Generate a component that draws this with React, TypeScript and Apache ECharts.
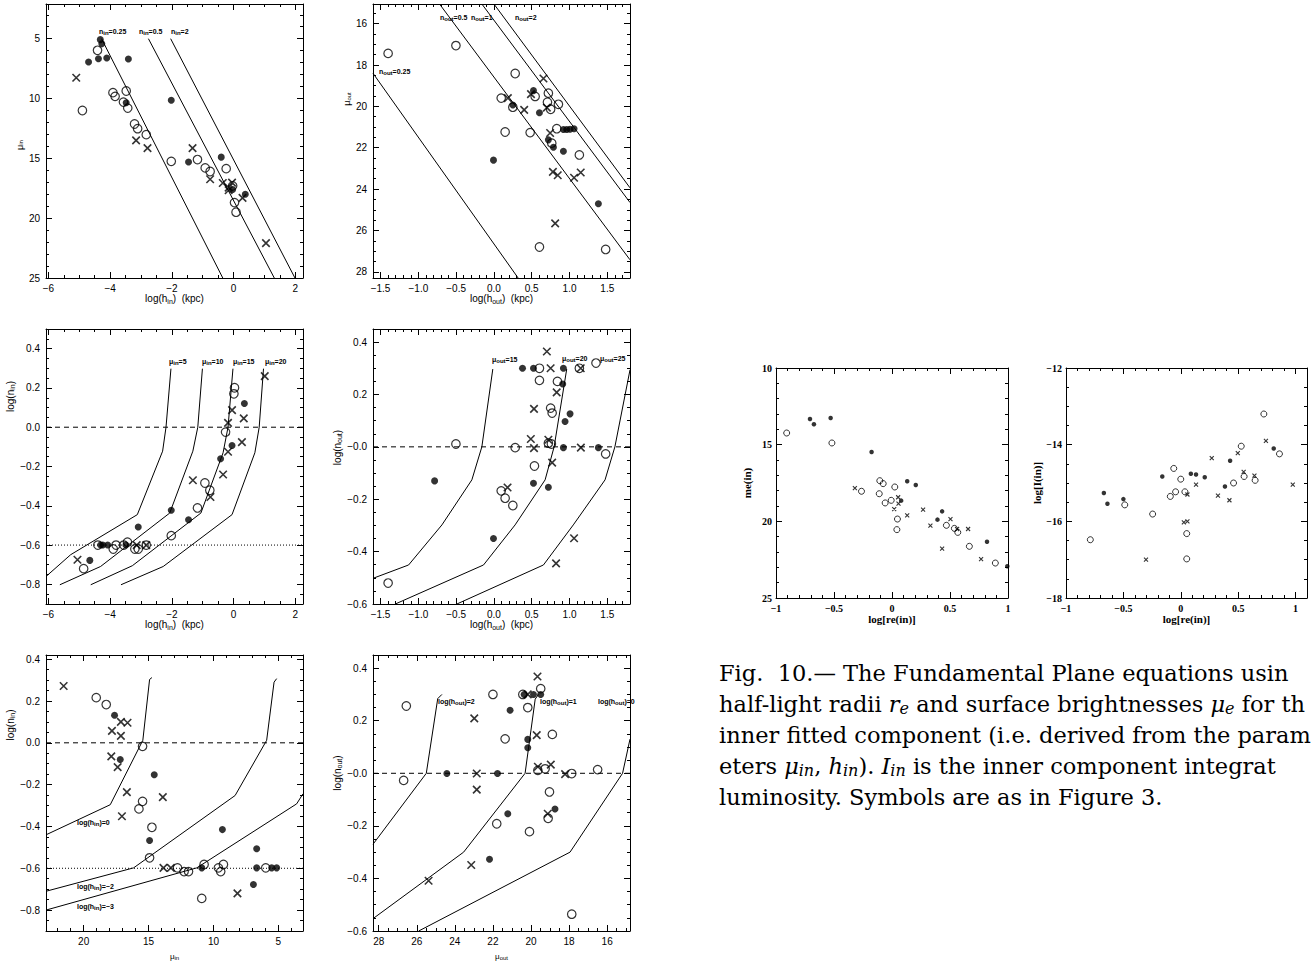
import React, { useEffect, useRef } from "react";
import * as echarts from "echarts";

// ================= DATA =================
// Panel A: mu_in vs log(h_in)
const aFilled = [[-4.32,5.08],[-4.27,5.42],[-4.70,6.95],[-4.38,6.67],[-4.11,6.62],[-3.41,6.70],[-3.48,10.35],[-2.02,10.15],[-1.46,15.30],[-0.40,14.90],[-0.03,17.60],[0.38,18.00]];
const aOpen = [[-4.41,5.97],[-3.91,9.51],[-3.84,9.82],[-3.48,9.37],[-3.57,10.30],[-3.43,10.80],[-4.90,11.00],[-3.21,12.13],[-3.11,12.52],[-2.83,13.02],[-2.02,15.25],[-1.17,15.10],[-0.92,15.80],[-0.76,16.10],[-0.24,15.86],[-0.03,17.30],[0.03,18.70],[0.08,19.50]];
const aCross = [[-5.10,8.26],[-3.16,13.50],[-2.79,14.14],[-1.33,14.14],[-0.76,16.75],[-0.35,17.06],[-0.16,17.67],[-0.05,17.03],[0.29,18.30],[1.05,22.08],[-0.16,17.45]];
const aLineN025 = [[-4.28,5.0],[-0.35,25.0]];
const aLineN05 = [[-2.76,5.0],[1.32,25.0]];
const aLineN2 = [[-2.04,5.0],[1.99,25.0]];

// Panel B: mu_out vs log(h_out)
const bFilled = [[0.523,19.24],[0.25,19.93],[0.602,20.31],[-0.006,22.60],[0.72,21.62],[0.787,21.98],[0.919,22.17],[0.919,21.12],[0.963,21.12],[1.007,21.11],[1.06,21.08],[1.382,24.71]];
const bOpen = [[-1.40,17.44],[-0.503,17.06],[0.281,18.41],[0.096,19.60],[0.148,21.24],[0.25,20.04],[0.545,19.52],[0.72,19.36],[0.708,19.80],[0.75,20.14],[0.853,19.90],[0.479,21.27],[0.831,21.08],[0.765,21.78],[1.13,22.35],[0.602,26.80],[1.478,26.92]];
const bCross = [[0.655,18.65],[0.184,19.60],[0.49,19.41],[0.40,20.17],[0.70,20.06],[0.743,21.29],[0.78,23.17],[0.844,23.33],[1.06,23.45],[1.148,23.20],[0.81,25.66]];
const bLineN025 = [[-1.6,18.4],[0.32,28.3]];
const bLineN05 = [[-0.72,15.05],[1.8,27.42]];
const bLineN1 = [[-0.16,15.05],[1.8,24.65]];
const bLineN2 = [[0.0,15.05],[1.8,23.94]];

// Panel C: log(n_in) vs log(h_in)
const cFilled = [[-4.66,-0.678],[-4.31,-0.60],[-4.24,-0.60],[-4.08,-0.60],[-3.49,-0.60],[-3.09,-0.508],[-2.02,-0.423],[-1.46,-0.471],[-0.42,-0.161],[-0.05,-0.093],[0.35,0.121]];
const cOpen = [[-4.86,-0.72],[-4.40,-0.60],[-3.90,-0.62],[-3.81,-0.60],[-3.56,-0.60],[-3.44,-0.585],[-3.20,-0.62],[-3.09,-0.62],[-2.83,-0.60],[-2.02,-0.552],[-1.17,-0.411],[-0.93,-0.284],[-0.77,-0.321],[-0.26,-0.025],[0.03,0.201],[0.01,0.17]];
const cCross = [[-5.06,-0.675],[-1.32,-0.27],[-0.75,-0.355],[-0.34,-0.241],[-0.18,-0.125],[-0.18,0.022],[-0.05,0.087],[0.27,-0.076],[0.33,0.045],[1.01,0.26],[-3.14,-0.60],[-2.83,-0.60]];
const cCurveMu5 = [[-6.08,-0.76],[-5.28,-0.649],[-3.12,-0.445],[-2.30,-0.122],[-2.19,0.0],[-2.03,0.298]];
const cCurveMu10 = [[-5.63,-0.802],[-4.31,-0.709],[-2.07,-0.437],[-1.32,-0.122],[-1.16,0.0],[-1.01,0.298]];
const cCurveMu15 = [[-4.63,-0.802],[-3.28,-0.705],[-1.06,-0.437],[-0.34,-0.13],[-0.18,0.0],[-0.02,0.298]];
const cCurveMu20 = [[-3.65,-0.802],[-2.28,-0.709],[-0.05,-0.445],[0.69,-0.13],[0.83,0.0],[0.97,0.298]];

// Panel D: log(n_out) vs log(h_out)
const dFilled = [[-0.785,-0.13],[-0.006,-0.35],[0.378,0.30],[0.523,0.30],[0.919,0.30],[0.91,0.24],[0.523,-0.139],[0.72,-0.154],[0.941,0.097],[1.007,0.126],[0.919,-0.003],[1.382,-0.003]];
const dOpen = [[-1.40,-0.52],[-0.503,0.011],[0.281,-0.003],[0.096,-0.168],[0.148,-0.196],[0.25,-0.224],[0.536,-0.073],[0.602,0.30],[0.602,0.254],[0.75,0.148],[0.77,0.129],[0.72,0.014],[0.76,0.011],[0.84,0.25],[1.35,0.32],[1.13,0.30],[1.478,-0.027]];
const dCross = [[0.70,0.364],[0.75,0.30],[0.53,0.145],[0.83,0.208],[0.488,0.03],[0.72,0.027],[0.53,-0.005],[0.77,-0.06],[0.18,-0.155],[1.148,0.30],[1.15,-0.003],[1.06,-0.349],[0.822,-0.445]];
const dCurveMu15 = [[-1.6,-0.502],[-1.129,-0.451],[-0.688,-0.298],[-0.292,-0.126],[-0.16,0.0],[-0.015,0.297]];
const dCurveMu20 = [[-1.305,-0.6],[-0.138,-0.451],[0.28,-0.298],[0.677,-0.126],[0.796,0.0],[0.963,0.297]];
const dCurveMu25 = [[-0.49,-0.6],[0.655,-0.451],[1.05,-0.298],[1.47,-0.126],[1.6,0.0],[1.8,0.294]];

// Panel E: log(n_in) vs mu_in
const eFilled = [[17.62,0.132],[17.18,-0.08],[14.56,-0.153],[14.92,-0.467],[9.31,-0.415],[10.9,-0.598],[6.67,-0.507],[6.92,-0.678],[6.67,-0.598],[5.51,-0.598],[5.13,-0.598]];
const eOpen = [[19.03,0.216],[18.26,0.183],[15.46,-0.017],[15.46,-0.28],[15.74,-0.316],[14.74,-0.404],[14.92,-0.55],[12.77,-0.598],[12.26,-0.616],[11.92,-0.616],[10.9,-0.744],[10.72,-0.582],[9.62,-0.598],[9.44,-0.616],[9.23,-0.582],[5.97,-0.598]];
const eCross = [[21.54,0.272],[17.82,0.057],[17.13,0.10],[16.62,0.096],[17.13,0.033],[17.87,-0.065],[17.38,-0.116],[16.67,-0.236],[17.05,-0.351],[13.9,-0.26],[13.85,-0.598],[13.28,-0.598],[8.15,-0.72]];
const eCurveH0 = [[22.9,-0.44],[17.95,-0.296],[15.44,0.012],[14.92,0.303],[14.74,0.312]];
const eCurveHm2 = [[22.9,-0.71],[16.15,-0.598],[8.33,-0.252],[5.9,0.012],[5.33,0.29],[5.13,0.307]];
const eCurveHm3 = [[22.9,-0.80],[11.28,-0.598],[3.59,-0.292],[3.1,-0.244]];

// Panel F: log(n_out) vs mu_out
const fFilled = [[20.36,0.30],[19.87,0.30],[19.49,0.30],[21.1,0.24],[20.17,0.129],[20.17,0.097],[24.42,-0.001],[21.76,-0.001],[21.22,-0.154],[18.74,-0.136],[22.18,-0.327]];
const fOpen = [[26.55,0.256],[26.69,-0.027],[22.0,0.30],[20.43,0.30],[20.17,0.25],[21.36,0.131],[19.49,0.322],[18.88,0.148],[19.64,0.011],[19.26,0.017],[17.86,-0.001],[16.5,0.014],[19.03,-0.071],[21.8,-0.192],[20.08,-0.222],[19.1,-0.171],[17.86,-0.536]];
const fCross = [[20.17,0.30],[19.66,0.368],[22.98,0.209],[19.7,0.145],[19.64,0.025],[18.96,0.033],[18.21,-0.003],[22.85,-0.001],[22.85,-0.062],[19.12,-0.154],[23.14,-0.349],[25.38,-0.409]];
const fCurveH2 = [[28.3,-0.27],[25.5,0.0],[24.9,0.284],[24.68,0.30]];
const fCurveH1 = [[28.3,-0.553],[23.54,-0.30],[20.31,0.0],[19.78,0.282],[19.61,0.30]];
const fCurveH0 = [[25.9,-0.6],[17.95,-0.30],[15.19,0.0],[14.8,0.13]];

// Panel G: me(in) vs log[re(in)]
const gFilled = [[-0.707,13.33],[-0.673,13.67],[-0.529,13.26],[-0.176,15.48],[0.131,17.39],[0.205,17.63],[0.079,18.65],[0.392,19.89],[0.432,19.35],[0.819,21.33],[0.994,22.93]];
const gOpen = [[-0.908,14.24],[-0.518,14.89],[-0.263,18.04],[-0.105,17.35],[-0.076,17.54],[-0.11,18.2],[0.024,17.76],[-0.059,18.8],[-0.007,18.63],[0.047,19.85],[0.042,20.54],[0.469,20.26],[0.538,20.46],[0.567,20.72],[0.667,21.63],[0.891,22.72]];
const gCross = [[-0.32,17.83],[0.019,19.2],[0.053,18.43],[0.056,18.85],[0.131,19.61],[0.268,19.24],[0.331,20.28],[0.504,19.85],[0.561,20.5],[0.656,20.5],[0.432,21.78],[0.768,22.46]];

// Panel H: log[I(in)] vs log[re(in)]
const hFilled = [[-0.67,-15.26],[-0.639,-15.54],[-0.5,-15.42],[-0.161,-14.83],[0.088,-14.76],[0.133,-14.78],[0.209,-14.85],[0.385,-15.09],[0.43,-14.42],[0.81,-14.1]];
const hOpen = [[-0.788,-16.48],[-0.488,-15.57],[-0.245,-15.81],[-0.091,-15.35],[-0.061,-14.62],[-0.045,-15.23],[0.0,-14.9],[0.036,-15.23],[0.052,-16.32],[0.052,-16.98],[0.46,-15.0],[0.527,-14.04],[0.552,-14.83],[0.648,-14.93],[0.724,-13.2],[0.86,-14.24]];
const hCross = [[-0.303,-17.0],[0.027,-16.03],[0.058,-16.0],[0.058,-15.3],[0.133,-15.04],[0.27,-14.35],[0.324,-15.33],[0.424,-15.45],[0.497,-14.22],[0.548,-14.71],[0.642,-14.81],[0.742,-13.9],[0.976,-15.04]];

// reference lines
const zeroLineHin = [[-6.08,0],[2.25,0]];
const dotLineHin = [[-6.08,-0.6],[2.25,-0.6]];
const zeroLineHout = [[-1.6,0],[1.8,0]];
const zeroLineMuin = [[3.1,0],[22.9,0]];
const dotLineMuin = [[3.1,-0.6],[22.9,-0.6]];
const zeroLineMuout = [[14.8,0],[28.3,0]];

// tick values and labels
const hinTicks = [-6,-4,-2,0,2];
const hinLabels = ["−6","−4","−2","0","2"];
const muinTicks = [5,10,15,20,25];
const muinLabels = ["5","10","15","20","25"];
const houtTicks = [-1.5,-1,-0.5,0,0.5,1,1.5];
const houtLabels = ["−1.5","−1.0","−0.5","0.0","0.5","1.0","1.5"];
const muoutTicks = [16,18,20,22,24,26,28];
const muoutLabels = ["16","18","20","22","24","26","28"];
const ninTicks = [-0.8,-0.6,-0.4,-0.2,0,0.2,0.4];
const ninLabels = ["−0.8","−0.6","−0.4","−0.2","0.0","0.2","0.4"];
const noutTicks = [-0.6,-0.4,-0.2,0,0.2,0.4];
const noutLabels = ["−0.6","−0.4","−0.2","−0.0","0.2","0.4"];
const muinRevTicks = [20,15,10,5];
const muinRevLabels = ["20","15","10","5"];
const reTicks = [-1,-0.5,0,0.5,1];
const reLabels = ["−1","−0.5","0","0.5","1"];
const meTicks = [10,15,20,25];
const meLabels = ["10","15","20","25"];
const lumTicks = [-18,-16,-14,-12];
const lumLabels = ["−18","−16","−14","−12"];

// caption, as visible in the reference (its right side runs off the page there)
const captionLines = [
  "{n|Fig.  10.— The Fundamental Plane equations usin}",
  "{n|half-light radii }{i|r}{s|e}{n| and surface brightnesses }{i|μ}{s|e}{n| for th}",
  "{n|inner fitted component (i.e. derived from the param}",
  "{n|eters }{i|μ}{s|in}{n|, }{i|h}{s|in}{n|). }{i|I}{s|in}{n| is the inner component integrat}",
  "{n|luminosity. Symbols are as in Figure 3.}",
];

// ================= HELPERS =================
const SANS = "Liberation Sans, Arial, sans-serif";
const SERIF = "Liberation Serif, Times New Roman, serif";
const CAPFONT = "DejaVu Serif, serif";
const CROSS = "path://M0,0L10,10M10,0L0,10";

function seq(a: number, b: number, step: number) {
  const out: number[] = [];
  const n = Math.round((b - a) / step);
  for (let i = 0; i <= n; i++) out.push(+(a + i * step).toFixed(6));
  return out;
}
function minors(a: number, b: number, step: number, majors: number[]) {
  return seq(a, b, step).filter((v) => !majors.some((m) => Math.abs(m - v) < 1e-6));
}

function richOf(s: string, fs: number, family: string, weight: string = "normal") {
  const parts: string[] = [];
  const re = /_\{([^}]*)\}/g;
  let last = 0;
  let m: RegExpExecArray | null;
  while ((m = re.exec(s))) {
    if (m.index > last) parts.push(`{m|${s.slice(last, m.index)}}`);
    parts.push(`{s|${m[1]}}`);
    last = re.lastIndex;
  }
  if (last < s.length) parts.push(`{m|${s.slice(last)}}`);
  const sfs = Math.max(6, Math.round(fs * 0.7));
  return {
    text: parts.join(""),
    rich: {
      m: { fontSize: fs, fontFamily: family, fontWeight: weight, lineHeight: fs + 2, verticalAlign: "top", color: "#000", fill: "#000" },
      s: { fontSize: sfs, fontFamily: family, fontWeight: weight, lineHeight: fs + 2, padding: [Math.round(fs * 0.35), 0, 0, 0], verticalAlign: "top", color: "#000", fill: "#000" },
    },
  };
}

type Spec = { min: number; max: number; inverse?: boolean; majors: number[]; labels: string[]; minors: number[] };
type NameCfg = { text: string; gap: number; fs: number; family: string; weight?: string; shift?: number };

function axesFor(dim: "x" | "y", gi: number, spec: Spec, lab: any, name: NameCfg, majorLen: number, minorLen: number) {
  const posA = dim === "x" ? "bottom" : "left";
  const posB = dim === "x" ? "top" : "right";
  const fmt = (v: number) => {
    const i = spec.majors.findIndex((mm) => Math.abs(mm - v) < 1e-6);
    return i >= 0 ? spec.labels[i] : "";
  };
  const r = richOf(name.text, name.fs, name.family, name.weight || "normal");
  const shift = name.shift || 0;
  const namePart = {
    name: r.text,
    nameLocation: "middle",
    nameGap: name.gap,
    nameRotate: dim === "y" ? 90 : 0,
    nameTextStyle: {
      color: "#000",
      rich: r.rich,
      padding: shift >= 0 ? [0, 0, 0, shift * 2] : [0, -shift * 2, 0, 0],
    },
  };
  const mk = (pos: string, vals: number[], len: number, labeled: boolean, line: boolean) => ({
    type: "value",
    gridIndex: gi,
    min: spec.min,
    max: spec.max,
    inverse: !!spec.inverse,
    position: pos,
    splitLine: { show: false },
    axisLine: { show: line, onZero: false, lineStyle: { color: "#000", width: 1 } },
    axisTick: { show: true, inside: true, length: len, customValues: vals, lineStyle: { color: "#000", width: 1 } },
    axisLabel: labeled ? { show: true, customValues: spec.majors, formatter: fmt, ...lab } : { show: false },
    ...(labeled ? namePart : {}),
  });
  return [
    mk(posA, spec.majors, majorLen, true, true),
    mk(posA, spec.minors, minorLen, false, false),
    mk(posB, spec.majors, majorLen, false, true),
    mk(posB, spec.minors, minorLen, false, false),
  ];
}

function pts(gi: number, data: number[][], kind: "filled" | "open" | "cross", small: boolean) {
  const base: any = { type: "scatter", xAxisIndex: gi * 4, yAxisIndex: gi * 4, data, silent: true, z: 5 };
  if (kind === "filled") return { ...base, symbol: "circle", symbolSize: small ? 4.5 : 7, itemStyle: { color: "#000" } };
  if (kind === "open") return { ...base, symbol: "circle", symbolSize: small ? 6 : 8.5, itemStyle: { color: "rgba(0,0,0,0)", borderColor: "#000", borderWidth: small ? 1 : 1.2 } };
  return { ...base, symbol: CROSS, symbolSize: small ? 4 : 7.5, itemStyle: { color: "rgba(0,0,0,0)", borderColor: "#000", borderWidth: small ? 1.1 : 1.6 } };
}

function ln(gi: number, data: number[][], type: any = "solid") {
  return { type: "line", xAxisIndex: gi * 4, yAxisIndex: gi * 4, data, showSymbol: false, symbol: "none", silent: true, clip: true, z: 3, lineStyle: { color: "#000", width: 1, type } };
}

function note(x: number, y: number, s: string, fs: number = 7) {
  const r = richOf(s, fs, SANS, "bold");
  return { type: "text", x, y, silent: true, style: { text: r.text, rich: r.rich, verticalAlign: "middle", align: "left", fill: "#000" } };
}

// ================= COMPONENT =================
export default function App() {
  const ref = useRef<HTMLDivElement>(null);

  useEffect(() => {
    if (!ref.current) return;
    const chart = echarts.init(ref.current, undefined, { renderer: "svg" });

    const grids = [
      { left: 46, top: 4, width: 257, height: 274 },
      { left: 373, top: 4, width: 257, height: 274 },
      { left: 46, top: 329, width: 257, height: 275 },
      { left: 373, top: 329, width: 257, height: 275 },
      { left: 46, top: 655, width: 257, height: 276 },
      { left: 373, top: 655, width: 257, height: 276 },
      { left: 776, top: 368, width: 232, height: 230 },
      { left: 1066, top: 368, width: 241, height: 230 },
    ].map((g) => ({ ...g, show: false, containLabel: false }));

    const hinSpec: Spec = { min: -6.08, max: 2.25, majors: hinTicks, labels: hinLabels, minors: minors(-6, 2, 0.5, hinTicks) };
    const houtSpec: Spec = { min: -1.6, max: 1.8, majors: houtTicks, labels: houtLabels, minors: minors(-1.6, 1.8, 0.1, houtTicks) };
    const ninSpec: Spec = { min: -0.9, max: 0.5, majors: ninTicks, labels: ninLabels, minors: minors(-0.9, 0.5, 0.05, ninTicks) };
    const noutSpec: Spec = { min: -0.6, max: 0.45, majors: noutTicks, labels: noutLabels, minors: minors(-0.6, 0.45, 0.05, noutTicks) };

    const specs: [Spec, Spec][] = [
      [hinSpec, { min: 2.1, max: 25, inverse: true, majors: muinTicks, labels: muinLabels, minors: minors(3, 25, 1, muinTicks) }],
      [houtSpec, { min: 15.05, max: 28.3, inverse: true, majors: muoutTicks, labels: muoutLabels, minors: minors(15.5, 28, 0.5, muoutTicks) }],
      [hinSpec, ninSpec],
      [houtSpec, noutSpec],
      [{ min: 3.1, max: 22.9, inverse: true, majors: muinRevTicks, labels: muinRevLabels, minors: minors(4, 22, 1, muinRevTicks) }, { min: -0.9, max: 0.42, majors: ninTicks, labels: ninLabels, minors: minors(-0.9, 0.4, 0.05, ninTicks) }],
      [{ min: 14.8, max: 28.3, inverse: true, majors: muoutTicks, labels: muoutLabels, minors: minors(15, 28, 0.5, muoutTicks) }, noutSpec],
      [{ min: -1, max: 1, majors: reTicks, labels: reLabels, minors: minors(-1, 1, 0.1, reTicks) }, { min: 10, max: 25, inverse: true, majors: meTicks, labels: meLabels, minors: minors(10, 25, 1, meTicks) }],
      [{ min: -1, max: 1.1, majors: reTicks, labels: reLabels, minors: minors(-1, 1.1, 0.1, reTicks) }, { min: -18, max: -12, majors: lumTicks, labels: lumLabels, minors: minors(-18, -12, 0.5, lumTicks) }],
    ];

    const xNames: NameCfg[] = [
      { text: "log(h_{in})  (kpc)", gap: 15, fs: 10, family: SANS },
      { text: "log(h_{out})  (kpc)", gap: 15, fs: 10, family: SANS },
      { text: "log(h_{in})  (kpc)", gap: 15, fs: 10, family: SANS },
      { text: "log(h_{out})  (kpc)", gap: 15, fs: 10, family: SANS },
      { text: "μ_{in}", gap: 21, fs: 8, family: SANS },
      { text: "μ_{out}", gap: 21, fs: 8, family: SANS },
      { text: "log[re(in)]", gap: 9, fs: 11, family: SERIF, weight: "bold" },
      { text: "log[re(in)]", gap: 9, fs: 11, family: SERIF, weight: "bold" },
    ];
    const yNames: NameCfg[] = [
      { text: "μ_{in}", gap: 20, fs: 9, family: SANS, shift: -4 },
      { text: "μ_{out}", gap: 19, fs: 9, family: SANS, shift: 42 },
      { text: "log(n_{in})", gap: 29, fs: 10, family: SANS, shift: 70 },
      { text: "log(n_{out})", gap: 18, fs: 10, family: SANS, shift: 19 },
      { text: "log(n_{in})", gap: 29, fs: 10, family: SANS, shift: 68 },
      { text: "log(n_{out})", gap: 28, fs: 10, family: SANS, shift: 20 },
      { text: "me(in)", gap: 22, fs: 11, family: SERIF, weight: "bold" },
      { text: "log[I(in)]", gap: 22, fs: 11, family: SERIF, weight: "bold" },
    ];

    const xAxis: any[] = [];
    const yAxis: any[] = [];
    specs.forEach(([xs, ys], gi) => {
      const right = gi >= 6;
      const lab = right
        ? { fontFamily: SERIF, fontWeight: "bold", fontSize: 10, color: "#000" }
        : { fontFamily: SANS, fontSize: 10, color: "#000" };
      xAxis.push(...axesFor("x", gi, xs, { ...lab, margin: 5 }, xNames[gi], 6, 3));
      yAxis.push(...axesFor("y", gi, ys, { ...lab, margin: right ? 4 : 6 }, yNames[gi], 6, 3));
    });

    const series: any[] = [
      // A
      ln(0, aLineN025), ln(0, aLineN05), ln(0, aLineN2),
      pts(0, aFilled, "filled", false), pts(0, aOpen, "open", false), pts(0, aCross, "cross", false),
      // B
      ln(1, bLineN025), ln(1, bLineN05), ln(1, bLineN1), ln(1, bLineN2),
      pts(1, bFilled, "filled", false), pts(1, bOpen, "open", false), pts(1, bCross, "cross", false),
      // C
      ln(2, zeroLineHin, [5, 4]), ln(2, dotLineHin, [1, 2]),
      ln(2, cCurveMu5), ln(2, cCurveMu10), ln(2, cCurveMu15), ln(2, cCurveMu20),
      pts(2, cFilled, "filled", false), pts(2, cOpen, "open", false), pts(2, cCross, "cross", false),
      // D
      ln(3, zeroLineHout, [5, 4]),
      ln(3, dCurveMu15), ln(3, dCurveMu20), ln(3, dCurveMu25),
      pts(3, dFilled, "filled", false), pts(3, dOpen, "open", false), pts(3, dCross, "cross", false),
      // E
      ln(4, zeroLineMuin, [5, 4]), ln(4, dotLineMuin, [1, 2]),
      ln(4, eCurveH0), ln(4, eCurveHm2), ln(4, eCurveHm3),
      pts(4, eFilled, "filled", false), pts(4, eOpen, "open", false), pts(4, eCross, "cross", false),
      // F
      ln(5, zeroLineMuout, [5, 4]),
      ln(5, fCurveH2), ln(5, fCurveH1), ln(5, fCurveH0),
      pts(5, fFilled, "filled", false), pts(5, fOpen, "open", false), pts(5, fCross, "cross", false),
      // G
      pts(6, gFilled, "filled", true), pts(6, gOpen, "open", true), pts(6, gCross, "cross", true),
      // H
      pts(7, hFilled, "filled", true), pts(7, hOpen, "open", true), pts(7, hCross, "cross", true),
    ];

    const CAP = 22.5;
    const capRich = {
      n: { fontFamily: CAPFONT, fontSize: CAP, color: "#000", fill: "#000", lineHeight: 30, verticalAlign: "top" },
      i: { fontFamily: CAPFONT, fontStyle: "italic", fontSize: CAP, color: "#000", fill: "#000", lineHeight: 30, verticalAlign: "top" },
      s: { fontFamily: CAPFONT, fontStyle: "italic", fontSize: 16, color: "#000", fill: "#000", lineHeight: 30, padding: [8, 0, 0, 0], verticalAlign: "top" },
    };

    const graphic: any[] = [
      note(99, 32, "n_{in}=0.25"), note(139, 32, "n_{in}=0.5"), note(171, 32, "n_{in}=2"),
      note(440, 18, "n_{out}=0.5"), note(471, 18, "n_{out}=1"), note(515, 18, "n_{out}=2"), note(379, 72, "n_{out}=0.25"),
      note(169, 362, "μ_{in}=5"), note(202, 362, "μ_{in}=10"), note(233, 362, "μ_{in}=15"), note(265, 362, "μ_{in}=20"),
      note(492, 360, "μ_{out}=15"), note(562, 359, "μ_{out}=20"), note(600, 359, "μ_{out}=25"),
      note(77, 823, "log(h_{in})=0"), note(77, 887, "log(h_{in})=−2"), note(77, 907, "log(h_{in})=−3"),
      note(438, 702, "log(h_{out})=2"), note(540, 702, "log(h_{out})=1"), note(598, 702, "log(h_{out})=0"),
      ...captionLines.map((t, k) => ({
        type: "text", x: 719, y: 661 + k * 31, silent: true,
        style: { text: t, rich: capRich, align: "left", verticalAlign: "top", fill: "#000" },
      })),
    ];

    chart.setOption({
      animation: false,
      backgroundColor: "#fff",
      grid: grids,
      xAxis,
      yAxis,
      series,
      graphic,
    });

    return () => chart.dispose();
  }, []);

  return <div ref={ref} style={{ position: "absolute", left: 0, top: 0, width: 1315, height: 962 }} />;
}
